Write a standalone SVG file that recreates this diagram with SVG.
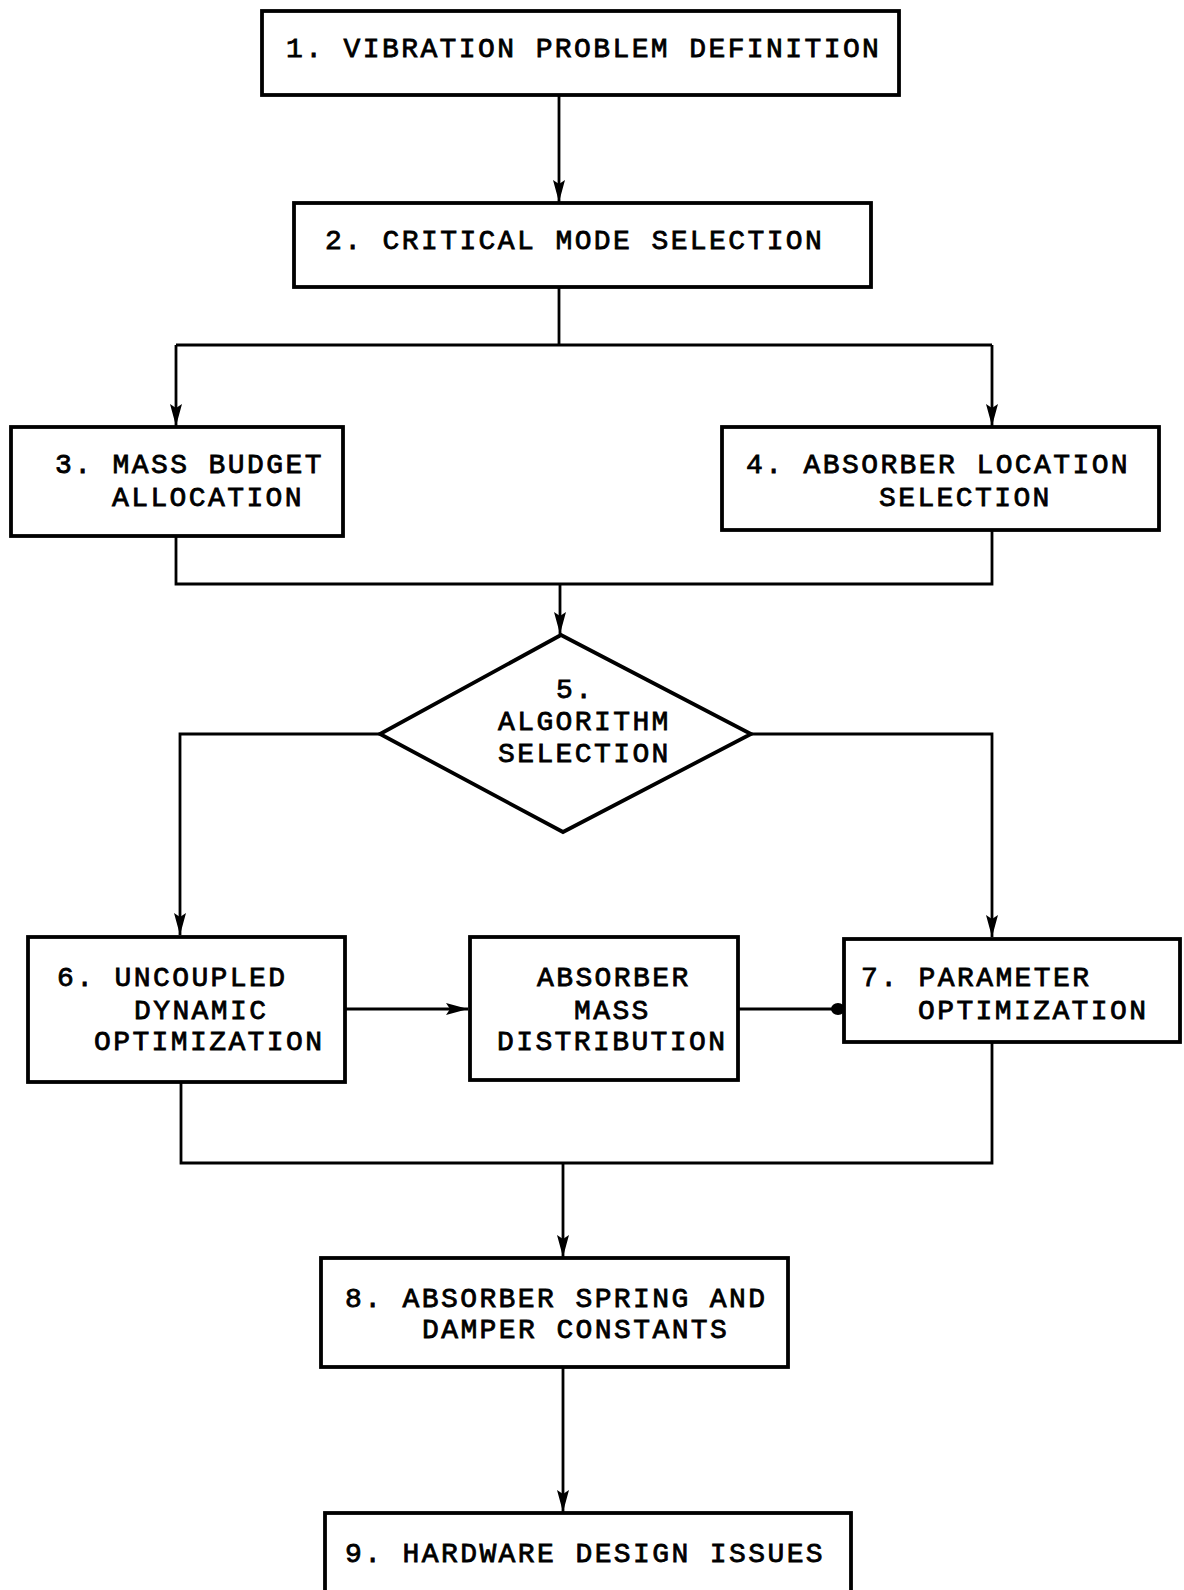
<svg xmlns="http://www.w3.org/2000/svg" width="1184" height="1590" viewBox="0 0 1184 1590">
<style>
.box{fill:#fff;stroke:#000;stroke-width:3.8}
.ln{fill:none;stroke:#000;stroke-width:2.8}
.t{font-family:"Liberation Mono","Courier New",monospace;font-size:28px;letter-spacing:2.4px;fill:#000;stroke:#000;stroke-width:0.8}
</style>
<defs>
<marker id="ah" markerUnits="userSpaceOnUse" markerWidth="22" markerHeight="12" refX="22" refY="6" orient="auto">
<path d="M0,0 L22,6 L0,12 L4,6 Z" fill="#000"/>
</marker>
<marker id="dot" markerUnits="userSpaceOnUse" markerWidth="16" markerHeight="14" refX="14" refY="7" orient="auto">
<ellipse cx="8" cy="7" rx="7" ry="6" fill="#000"/>
</marker>
</defs>
<rect width="1184" height="1590" fill="#fff"/>
<g id="connectors">
<line class="ln" x1="559" y1="95" x2="559" y2="202" marker-end="url(#ah)"/>
<polyline class="ln" points="559,287 559,345"/>
<polyline class="ln" points="176,345 992,345"/>
<line class="ln" x1="176" y1="345" x2="176" y2="426" marker-end="url(#ah)"/>
<line class="ln" x1="992" y1="345" x2="992" y2="426" marker-end="url(#ah)"/>
<polyline class="ln" points="176,536 176,584 992,584 992,530"/>
<line class="ln" x1="560" y1="584" x2="560" y2="634" marker-end="url(#ah)"/>
<polyline class="ln" points="380,734 180,734 180,935" marker-end="url(#ah)"/>
<polyline class="ln" points="751,734 992,734 992,937" marker-end="url(#ah)"/>
<line class="ln" x1="346" y1="1009" x2="468" y2="1009" marker-end="url(#ah)"/>
<line class="ln" x1="738" y1="1009" x2="844" y2="1009" marker-end="url(#dot)"/>
<polyline class="ln" points="181,1082 181,1163 992,1163 992,1042"/>
<line class="ln" x1="563" y1="1163" x2="563" y2="1257" marker-end="url(#ah)"/>
<line class="ln" x1="563" y1="1367" x2="563" y2="1512" marker-end="url(#ah)"/>
</g>
<g id="n1"><rect class="box" x="262" y="11" width="637" height="84"/><text class="t" x="286" y="57">1. VIBRATION PROBLEM DEFINITION</text></g>
<g id="n2"><rect class="box" x="294" y="203" width="577" height="84"/><text class="t" x="325" y="249">2. CRITICAL MODE SELECTION</text></g>
<g id="n3"><rect class="box" x="11" y="427" width="332" height="109"/><text class="t" x="55" y="473">3. MASS BUDGET</text><text class="t" x="112" y="506">ALLOCATION</text></g>
<g id="n4"><rect class="box" x="722" y="427" width="437" height="103"/><text class="t" x="746" y="473">4. ABSORBER LOCATION</text><text class="t" x="879" y="506">SELECTION</text></g>
<g id="n5"><polygon class="box" points="561,635 751,734 563,832 380,734"/><text class="t" x="556" y="698">5.</text><text class="t" x="498" y="730">ALGORITHM</text><text class="t" x="498" y="762">SELECTION</text></g>
<g id="n6"><rect class="box" x="28" y="937" width="317" height="145"/><text class="t" x="57" y="986">6. UNCOUPLED</text><text class="t" x="134" y="1019">DYNAMIC</text><text class="t" x="94" y="1050">OPTIMIZATION</text></g>
<g id="nmid"><rect class="box" x="470" y="937" width="268" height="143"/><text class="t" x="537" y="986">ABSORBER</text><text class="t" x="574" y="1019">MASS</text><text class="t" x="497" y="1050">DISTRIBUTION</text></g>
<g id="n7"><rect class="box" x="844" y="939" width="336" height="103"/><text class="t" x="861" y="986">7. PARAMETER</text><text class="t" x="918" y="1019">OPTIMIZATION</text></g>
<g id="n8"><rect class="box" x="321" y="1258" width="467" height="109"/><text class="t" x="345" y="1307">8. ABSORBER SPRING AND</text><text class="t" x="422" y="1338">DAMPER CONSTANTS</text></g>
<g id="n9"><rect class="box" x="325" y="1513" width="526" height="90"/><text class="t" x="345" y="1562">9. HARDWARE DESIGN ISSUES</text></g>
</svg>
